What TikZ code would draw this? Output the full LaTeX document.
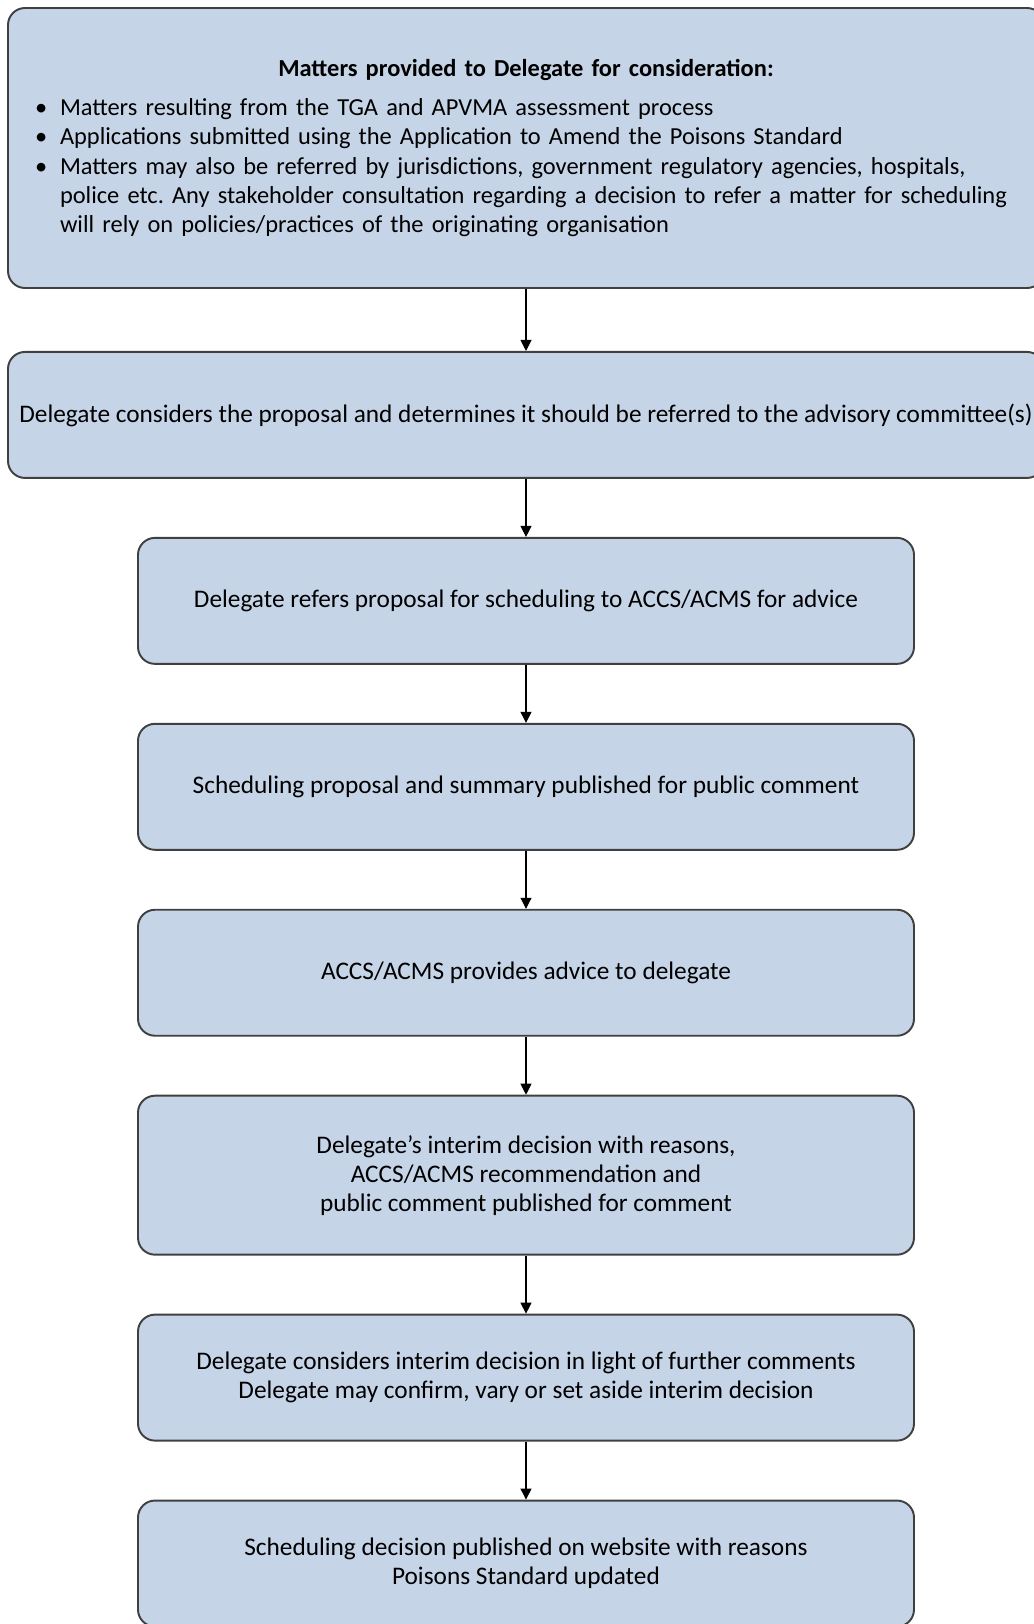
\documentclass[tikz,border=0pt]{standalone}
\usepackage{fontspec}
\setmainfont{Carlito}
\usepackage{xcolor}
\usetikzlibrary{positioning,arrows.meta}

\definecolor{boxfill}{HTML}{C6D4E8}
\definecolor{boxline}{HTML}{404040}

\newenvironment{matterlist}{\begin{list}{\textbullet}{%
  \setlength{\leftmargin}{0.5cm}\setlength{\labelwidth}{0.5cm}%
  \setlength{\labelsep}{0pt}\setlength{\itemsep}{0pt}%
  \setlength{\parsep}{0pt}\setlength{\topsep}{0pt}\setlength{\partopsep}{0pt}%
  \renewcommand{\makelabel}[1]{##1\hfil}}}{\end{list}}

\tikzset{
  stepbox/.style={draw=boxline, fill=boxfill, line width=1.1pt, rounded corners=0.34cm,
    minimum width=15.52cm, minimum height=2.52cm, align=center,
    font=\fontsize{14.4}{16.5}\selectfont},
  widebox/.style={stepbox, minimum width=20.72cm},
  flow/.style={-{Triangle[width=0.22cm,length=0.22cm]}, line width=0.6pt, black}
}

\begin{document}
\frenchspacing
\begin{tikzpicture}
    \useasboundingbox (0,0) rectangle (20.66,-32.48);

    % Top box with the list of matters
    \node[widebox, minimum height=5.6cm, text width=19.64cm, align=left,
          font=\fontsize{13.9}{16.7}\selectfont] (matters) at (10.52,-2.96) {%
        \centering\textbf{Matters provided to Delegate for consideration:}\par\vspace{0.2cm}
        \raggedright
        \begin{matterlist}
        \item Matters resulting from the TGA and APVMA assessment process
        \item Applications submitted using the Application to Amend the Poisons Standard
        \item Matters may also be referred by jurisdictions, government regulatory agencies, hospitals,\\
              police etc. Any stakeholder consultation regarding a decision to refer a matter for scheduling\\
              will rely on policies/practices of the originating organisation
        \end{matterlist}};

    % The steps, one below the other
    \node[widebox, below=1.24cm of matters] (consider) {Delegate considers the proposal and determines it should be referred to the advisory committee(s)};
    \node[stepbox, below=1.16cm of consider] (refer) {Delegate refers proposal for scheduling to ACCS/ACMS for advice};
    \node[stepbox, below=1.16cm of refer] (publish) {Scheduling proposal and summary published for public comment};
    \node[stepbox, below=1.16cm of publish] (advice) {ACCS/ACMS provides advice to delegate};
    \node[stepbox, below=1.16cm of advice, minimum height=3.18cm] (interim) {Delegate’s interim decision with reasons,\\ ACCS/ACMS recommendation and\\ public comment published for comment};
    \node[stepbox, below=1.16cm of interim] (further) {Delegate considers interim decision in light of further comments\\ Delegate may confirm, vary or set aside interim decision};
    \node[stepbox, below=1.16cm of further] (final) {Scheduling decision published on website with reasons\\ Poisons Standard updated};

    % Arrows between the steps
    \foreach \a/\b in {matters/consider, consider/refer, refer/publish, publish/advice, advice/interim, interim/further, further/final} {
        \draw[flow] (\a) -- (\b);
    };
\end{tikzpicture}
\end{document}
